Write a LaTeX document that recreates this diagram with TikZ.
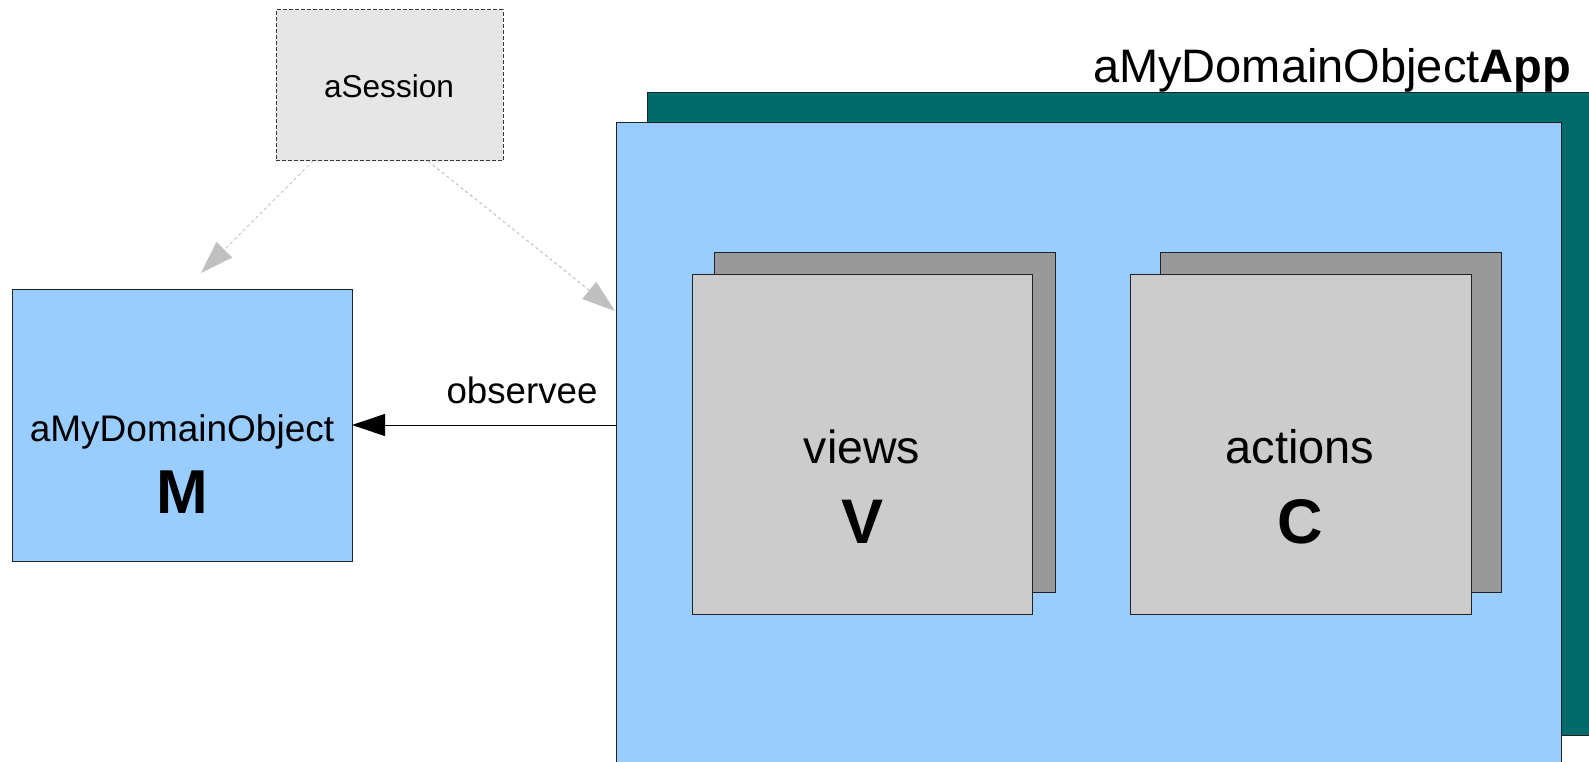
\documentclass[tikz,border=0pt]{standalone}
\usepackage{fontspec}
\setmainfont{Liberation Sans}
\usetikzlibrary{arrows.meta}
\definecolor{lblue}{HTML}{99CCFF}
\definecolor{tealbk}{HTML}{006B6B}
\definecolor{gfront}{HTML}{CCCCCC}
\definecolor{gback}{HTML}{999999}
\definecolor{sessfill}{HTML}{E6E6E6}
\definecolor{dashgray}{HTML}{C0C0C0}
\definecolor{edge}{HTML}{222222}
\begin{document}
\begin{tikzpicture}[x=1pt,y=-1pt,
  box/.style={draw=edge,line width=1pt,anchor=north west,inner sep=0pt,outer sep=0pt,rectangle},
  txt/.style={anchor=base,inner sep=0pt,outer sep=0pt},
  sessarrow/.style={draw=dashgray,line width=1pt,dash pattern=on 3pt off 3pt,
     -{Triangle[length=33pt,width=22pt,fill=dashgray]}},
  obsarrow/.style={draw=black,line width=1pt,-{Triangle[length=33pt,width=22pt]}},
]
\clip (0,0) rectangle (1589,762);
\fill[white] (0,0) rectangle (1589,762);
% application stack
\node[box,fill=tealbk,minimum width=1000pt,minimum height=642pt] (appback) at (647,93) {};
\node[box,fill=lblue,minimum width=945pt,minimum height=700pt] (app) at (616,123) {};
\node[txt] (apptitle) at (1332,83) {\fontsize{47}{50}\selectfont aMyDomainObject\textbf{App}};
% views
\node[box,fill=gback,minimum width=341pt,minimum height=340pt] (viewsback) at (714,252) {};
\node[box,fill=gfront,minimum width=340pt,minimum height=340pt] (views) at (692,274) {};
\node[txt] (viewstxt) at (862,463) {\fontsize{46.5}{50}\selectfont views};
\node[txt] (viewsV) at (862,543) {\fontsize{63}{66}\selectfont\bfseries V};
% actions
\node[box,fill=gback,minimum width=341pt,minimum height=340pt] (actback) at (1160,252) {};
\node[box,fill=gfront,minimum width=341pt,minimum height=340pt] (actions) at (1130,274) {};
\node[txt] (acttxt) at (1300,463) {\fontsize{47}{50}\selectfont actions};
\node[txt] (actC) at (1300,543) {\fontsize{63}{66}\selectfont\bfseries C};
% model
\node[box,fill=lblue,minimum width=340pt,minimum height=272pt] (model) at (12,289) {};
\node[txt] (modeltxt) at (182,441) {\fontsize{37}{40}\selectfont aMyDomainObject};
\node[txt] (modelM) at (182,513) {\fontsize{62}{66}\selectfont\bfseries M};
% session
\node[box,draw=edge!90,fill=sessfill,dash pattern=on 4pt off 2pt,minimum width=227pt,minimum height=151pt] (sess) at (276,10) {};
\node[txt] (sesstxt) at (389,98) {\fontsize{31.6}{34}\selectfont aSession};
% connectors
\coordinate (sL) at (313,161);
\coordinate (tL) at (201,273);
\coordinate (sR) at (428,161);
\coordinate (tR) at (615,311);
\draw[sessarrow] (sL) -- (tL);
\draw[sessarrow] (sR) -- (tR);
\draw[obsarrow] (model.east -| app.west) -- (model.east);
\node[txt] (obslabel) at (522,403) {\fontsize{36.7}{40}\selectfont observee};
\end{tikzpicture}
\end{document}
